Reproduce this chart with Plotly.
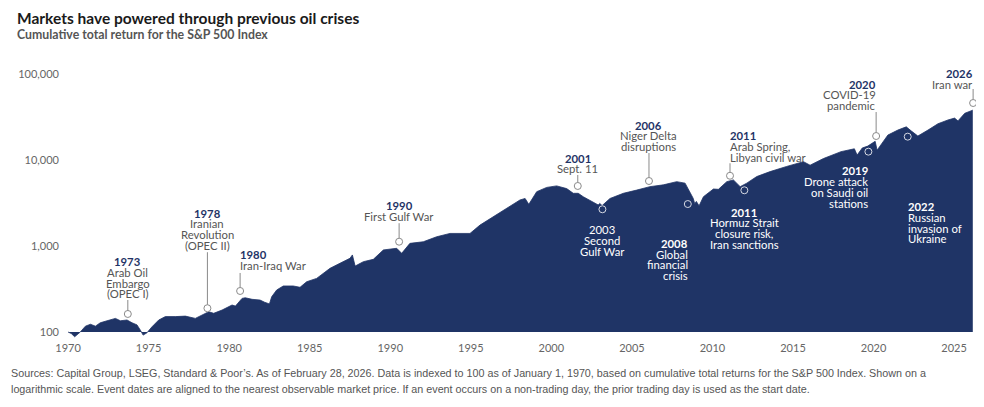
import numpy as np
import plotly.graph_objects as go

# Cumulative total return, S&P 500 (indexed to 100 on Jan 1, 1970)
dates = [
    1970.00, 1970.20, 1970.41, 1970.76, 1971.08, 1971.39, 1971.70, 1972.00, 1972.42, 1972.94,
    1973.25, 1973.66, 1973.97, 1974.28, 1974.49, 1974.66, 1974.90, 1975.21, 1975.63, 1976.04,
    1976.66, 1977.28, 1977.90, 1978.32, 1978.73, 1979.04, 1979.56, 1980.18, 1980.39, 1980.80,
    1981.00, 1981.42, 1981.92, 1982.20, 1982.50, 1982.64, 1982.95, 1983.36, 1983.98, 1984.40,
    1984.81, 1985.43, 1986.26, 1986.88, 1987.50, 1987.65, 1987.82, 1988.33, 1988.95, 1989.57,
    1990.40, 1990.71, 1991.22, 1992.05, 1992.88, 1993.71, 1994.33, 1994.95, 1995.57, 1996.40,
    1997.23, 1998.05, 1998.37, 1998.60, 1999.09, 1999.71, 2000.33, 2000.95, 2001.36, 2001.67,
    2001.98, 2002.50, 2002.91, 2003.00, 2003.15, 2003.64, 2004.47, 2005.30, 2006.12, 2006.95,
    2007.78, 2008.30, 2008.60, 2008.81, 2008.90, 2009.00, 2009.17, 2009.44, 2010.06, 2010.37,
    2010.89, 2011.30, 2011.72, 2012.13, 2012.75, 2013.58, 2014.61, 2015.65, 2016.06, 2016.89,
    2017.98, 2018.81, 2018.98, 2019.30, 2019.64, 2020.10, 2020.22, 2020.89, 2021.51, 2022.03,
    2022.35, 2022.75, 2023.38, 2024.00, 2024.62, 2025.03, 2025.24, 2025.66, 2026.16,
]
values = [
    100, 96, 88, 100, 117, 123, 117, 128, 135, 144,
    135, 138, 128, 121, 105, 92, 98, 115, 138, 151,
    151, 153, 144, 158, 172, 165, 180, 206, 200, 246,
    250, 240, 235, 222, 212, 257, 308, 343, 343, 331,
    384, 420, 550, 630, 720, 787, 584, 657, 700, 900,
    940, 822, 1073, 1120, 1280, 1400, 1400, 1400, 1750, 2200,
    2750, 3430, 3570, 3050, 4280, 4800, 5000, 4650, 4100, 4100,
    3740, 3280, 3000, 3130, 2950, 3570, 4100, 4470, 4900, 5140,
    5600, 5380, 4280, 3570, 3100, 3300, 2930, 3740, 4600, 4560,
    5600, 5870, 4900, 5380, 6420, 7330, 8420, 9560, 8700, 10400,
    12500, 13500, 11400, 13800, 14500, 16500, 13000, 19500, 22300, 24300,
    21700, 19000, 22300, 26400, 29200, 30700, 28500, 34900, 38000,
]

tick_years = [1970, 1975, 1980, 1985, 1990, 1995, 2000, 2005, 2010, 2015, 2020, 2025]
y_ticks = [100, 1000, 10000, 100000]
y_tick_text = ["100", "1,000", "10,000", "100,000"]

# events: date, marker value, year label, description lines
event_dates = [1973.71, 1978.65, 1980.68, 1990.55, 2001.64, 2003.17, 2006.06,
               2008.47, 2011.09, 2011.98, 2019.68, 2020.16, 2022.12, 2026.18]
event_values = [162, 189, 300, 1122, 4990, 2673, 5700,
                3076, 6560, 4446, 12500, 19000, 18680, 46000]
event_years = ["1973", "1978", "1980", "1990", "2001", "2003", "2006",
               "2008", "2011", "2011", "2019", "2020", "2022", "2026"]
event_texts = [
    ["Arab Oil", "Embargo", "(OPEC I)"],
    ["Iranian", "Revolution", "(OPEC II)"],
    ["Iran-Iraq War"],
    ["First Gulf War"],
    ["Sept. 11"],
    ["Second", "Gulf War"],
    ["Niger Delta", "disruptions"],
    ["Global", "financial", "crisis"],
    ["Arab Spring,", "Libyan civil war"],
    ["Hormuz Strait", "closure risk,", "Iran sanctions"],
    ["Drone attack", "on Saudi oil", "stations"],
    ["COVID-19", "pandemic"],
    ["Russian", "invasion of", "Ukraine"],
    ["Iran war"],
]

# label layout (pixels relative to marker: first text line offset, connector start/end, anchor, inside area)
label_layout = [
    dict(first=-52.3, c0=-14, c1=-3, anchor="center", inside=False),
    dict(first=-95.0, c0=-56, c1=-3.5, anchor="center", inside=False),
    dict(first=-36.0, c0=-18, c1=-3.5, anchor="left", inside=False),
    dict(first=-36.0, c0=-18.5, c1=-3.5, anchor="center", inside=False),
    dict(first=-27.7, c0=-11, c1=-3.5, anchor="center", inside=False),
    dict(first=20.7, c0=3.5, c1=12, anchor="center", inside=True, plain=True),
    dict(first=-56.0, c0=-28, c1=-3.5, anchor="center", inside=False),
    dict(first=39.3, c0=3.5, c1=32, anchor="right", inside=True),
    dict(first=-40.0, c0=-12.5, c1=-3.5, anchor="left", inside=False),
    dict(first=22.0, c0=3.5, c1=14, anchor="center", inside=True),
    dict(first=19.3, c0=3.5, c1=12.5, anchor="right", inside=True),
    dict(first=-52.0, c0=-24, c1=-3.5, anchor="right", inside=False),
    dict(first=70.0, c0=3.5, c1=62, anchor="left", inside=True),
    dict(first=-29.7, c0=-14, c1=-3.5, anchor="right", inside=False),
]

NAVY = "#1f3466"
GREY = "#555555"
LINE_GREY = "#8a8a8a"
FONT = "Lato"

# the page body adds an 8px margin, so the figure is drawn 8px smaller and targets shifted
OFF = 8
W, H = 984 - OFF, 407 - OFF
ML, MR, MT, MB = 60 - OFF, 6, 60 - OFF, 67
PW, PH = W - ML - MR, H - MT - MB
LINE_H = 10.7


def paper_x(px):
    return (px - OFF - ML) / PW


def paper_y(py):
    return (H - MB - (py - OFF)) / PH


fig = go.Figure()

# baseline at 100 so the area is filled between the curve and the index start
fig.add_trace(go.Scatter(x=[dates[0], dates[-1]], y=[100, 100], mode="lines",
                         line=dict(width=0, color=NAVY), hoverinfo="skip", showlegend=False))
fig.add_trace(go.Scatter(x=dates, y=values, mode="lines", fill="tonexty",
                         fillcolor=NAVY, line=dict(color=NAVY, width=0.8),
                         showlegend=False))

annotations = []
shapes = []
for d, v, yr, lines, lay in zip(event_dates, event_values, event_years, event_texts, label_layout):
    inside = lay["inside"]
    year_col = "white" if inside else NAVY
    txt_col = "white" if inside else GREY
    xshift = {"left": -2, "center": 0, "right": 2}[lay["anchor"]]
    all_lines = [yr] + lines
    for i, t in enumerate(all_lines):
        bold = (i == 0) and not lay.get("plain", False)
        annotations.append(dict(
            x=d, y=np.log10(v), xref="x", yref="y", showarrow=False,
            text=f"<b>{t}</b>" if bold else t,
            xanchor=lay["anchor"], yanchor="middle",
            xshift=xshift, yshift=-(lay["first"] + i * LINE_H),
            font=dict(family=FONT, size=11.3, color=year_col if i == 0 else txt_col),
        ))
    shapes.append(dict(
        type="line", xref="x", yref="y", ysizemode="pixel", yanchor=v,
        x0=d, x1=d, y0=-lay["c0"], y1=-lay["c1"],
        line=dict(color="#c9cedb" if inside else LINE_GREY, width=1),
    ))

fig.add_trace(go.Scatter(
    x=event_dates, y=event_values, mode="markers", showlegend=False,
    marker=dict(size=7, symbol="circle",
                color=[NAVY if lay["inside"] else "white" for lay in label_layout],
                line=dict(width=1, color=["#d6d9e3" if lay["inside"] else LINE_GREY
                                          for lay in label_layout])),
))

# title, subtitle and source note
annotations += [
    dict(x=paper_x(15), y=paper_y(18), xref="paper", yref="paper", showarrow=False,
         xanchor="left", yanchor="middle",
         text="<b>Markets have powered through previous oil crises</b>",
         font=dict(family=FONT, size=15.5, color="#1a1a1a")),
    dict(x=paper_x(15), y=paper_y(34), xref="paper", yref="paper", showarrow=False,
         xanchor="left", yanchor="middle",
         text="<b>Cumulative total return for the S&P 500 Index</b>",
         font=dict(family=FONT, size=12.3, color="#555555")),
    dict(x=paper_x(9), y=paper_y(373), xref="paper", yref="paper", showarrow=False,
         xanchor="left", yanchor="middle",
         text="Sources: Capital Group, LSEG, Standard & Poor\u2019s. As of February 28, 2026. Data is indexed to 100 as of "
              "January 1, 1970, based on cumulative total returns for the S&P 500 Index. Shown on a",
         font=dict(family="Liberation Sans", size=10.75, color="#555555")),
    dict(x=paper_x(9), y=paper_y(389), xref="paper", yref="paper", showarrow=False,
         xanchor="left", yanchor="middle",
         text="logarithmic scale. Event dates are aligned to the nearest observable market price. If an event occurs "
              "on a non-trading day, the prior trading day is used as the start date.",
         font=dict(family="Liberation Sans", size=10.75, color="#555555")),
]

fig.update_layout(
    width=W, height=H,
    margin=dict(l=ML, r=MR, t=MT, b=MB),
    paper_bgcolor="white", plot_bgcolor="white",
    annotations=annotations, shapes=shapes,
    xaxis=dict(range=[1969.5, 1969.5 + PW / 16.11], tickvals=tick_years,
               showgrid=False, zeroline=False, showline=False, ticks="",
               tickfont=dict(family=FONT, size=11, color="#666666")),
    yaxis=dict(type="log", range=[1.907, 1.907 + PH / 86], tickvals=y_ticks, ticktext=y_tick_text,
               showgrid=False, zeroline=False, showline=False, ticks="",
               tickfont=dict(family=FONT, size=11, color="#666666")),
)

fig.write_html("out.html")
